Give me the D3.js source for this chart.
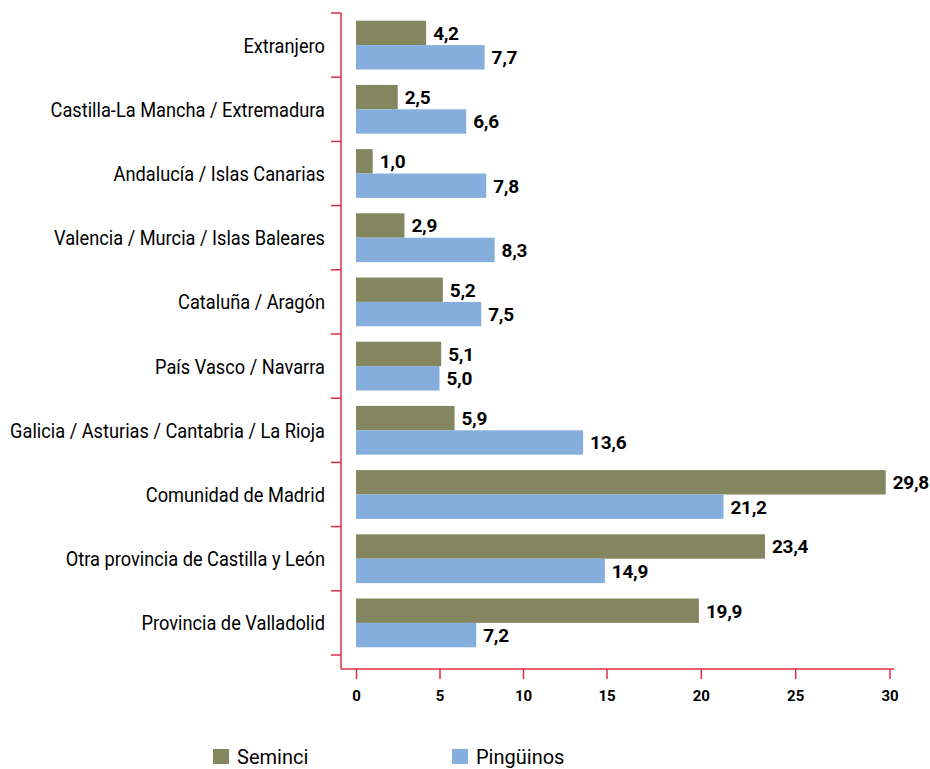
<!DOCTYPE html>
<html>
<head>
<meta charset="utf-8">
<script src="https://cdn.jsdelivr.net/npm/d3@7"></script>
<style>
  body { margin: 0; background: #fff; }
  svg { display: block; }
  text { font-family: Roboto, "Liberation Sans", sans-serif; fill: #000; }
</style>
</head>
<body>
<svg id="chart" width="930" height="769"></svg>
<script>
const categories = [
  "Extranjero",
  "Castilla-La Mancha / Extremadura",
  "Andalucía / Islas Canarias",
  "Valencia / Murcia / Islas Baleares",
  "Cataluña / Aragón",
  "País Vasco / Navarra",
  "Galicia / Asturias / Cantabria / La Rioja",
  "Comunidad de Madrid",
  "Otra provincia de Castilla y León",
  "Provincia de Valladolid"
];
const seriesNames = ["Seminci", "Pingüinos"];
const seminci   = [4.2, 2.5, 1.0, 2.9, 5.2, 5.1, 5.9, 29.8, 23.4, 19.9];
const pinguinos = [7.7, 6.6, 7.8, 8.3, 7.5, 5.0, 13.6, 21.2, 14.9, 7.2];
const xTicks = [0, 5, 10, 15, 20, 25, 30];
const colors = ["#83865f", "#85aedc"];
const axisColor = "#dc2d46";

const svg = d3.select("#chart");
const fmt = v => d3.format(".1f")(v).replace(".", ",");

const axisX0 = 341, axisY = 669;
const y = d3.scaleBand().domain(categories).range([13, 655]).paddingInner(0).paddingOuter(0);
const ySub = d3.scaleBand().domain(seriesNames).range([y.bandwidth() * 0.12, y.bandwidth() * 0.88]);
const x = d3.scaleLinear().domain([0, 15, 30]).range([356, 606.5, 889.5]);

const data = categories.map((c, i) => ({ cat: c, values: [seminci[i], pinguinos[i]] }));

// bars
const groups = svg.append("g").selectAll("g").data(data).join("g")
  .attr("transform", d => `translate(0,${y(d.cat)})`);
groups.selectAll("rect").data(d => d.values.map((v, j) => ({ v, s: seriesNames[j], j })))
  .join("rect")
  .attr("x", x(0))
  .attr("y", d => ySub(d.s))
  .attr("width", d => x(d.v) - x(0))
  .attr("height", ySub.bandwidth())
  .attr("fill", d => colors[d.j]);
groups.selectAll("text.val").data(d => d.values.map((v, j) => ({ v, s: seriesNames[j], j })))
  .join("text")
  .attr("class", "val")
  .attr("x", d => x(d.v) + 7)
  .attr("y", d => ySub(d.s) + ySub.bandwidth() / 2)
  .attr("dy", "0.36em")
  .attr("font-size", 19)
  .attr("font-weight", "bold")
  .attr("letter-spacing", -0.3)
  .text(d => fmt(d.v));

// y axis
const gy = svg.append("g");
gy.append("line").attr("x1", axisX0).attr("x2", axisX0).attr("y1", 13).attr("y2", axisY)
  .attr("stroke", axisColor).attr("stroke-width", 1.5);
const bounds = categories.map(c => y(c)).concat([y(categories[categories.length - 1]) + y.bandwidth()]);
gy.selectAll("line.tk").data(bounds).join("line").attr("class", "tk")
  .attr("x1", axisX0 - 10).attr("x2", axisX0).attr("y1", d => d).attr("y2", d => d)
  .attr("stroke", axisColor).attr("stroke-width", 1.5);
const catLabels = gy.selectAll("g.lbl").data(categories).join("g").attr("class", "lbl");
const catText = catLabels.append("text")
  .attr("dy", "0.36em").attr("text-anchor", "end").attr("font-size", 21)
  .text(d => d);
// condense labels horizontally so the longest one spans the same width as in the reference
const maxW = d3.max(catText.nodes(), n => n.getComputedTextLength());
const kx = Math.min(1, 315 / maxW);
catLabels.attr("transform", d => `translate(325,${y(d) + y.bandwidth() / 2}) scale(${kx},1)`);

// x axis
const gx = svg.append("g").attr("transform", `translate(0,${axisY})`)
  .call(d3.axisBottom(x).tickValues(xTicks).tickSize(10).tickPadding(11).tickFormat(d3.format("d")));
gx.select(".domain").remove();
gx.selectAll(".tick line").attr("stroke", axisColor).attr("stroke-width", 1.5);
gx.selectAll(".tick text").attr("font-size", 15).attr("font-weight", "bold").attr("fill", "#000")
  .style("font-family", 'Roboto, "Liberation Sans", sans-serif');
gx.append("line").attr("x1", axisX0).attr("x2", 894).attr("y1", 0).attr("y2", 0)
  .attr("stroke", axisColor).attr("stroke-width", 1.5);

// legend
const legendX = [213, 452];
const lg = svg.append("g").selectAll("g").data(seriesNames).join("g")
  .attr("transform", (d, i) => `translate(${legendX[i]},749)`);
lg.append("rect").attr("width", 16).attr("height", 15).attr("fill", (d, i) => colors[i]);
lg.append("text").attr("x", 24).attr("y", 15).attr("font-size", 20).text(d => d);
</script>
</body>
</html>
